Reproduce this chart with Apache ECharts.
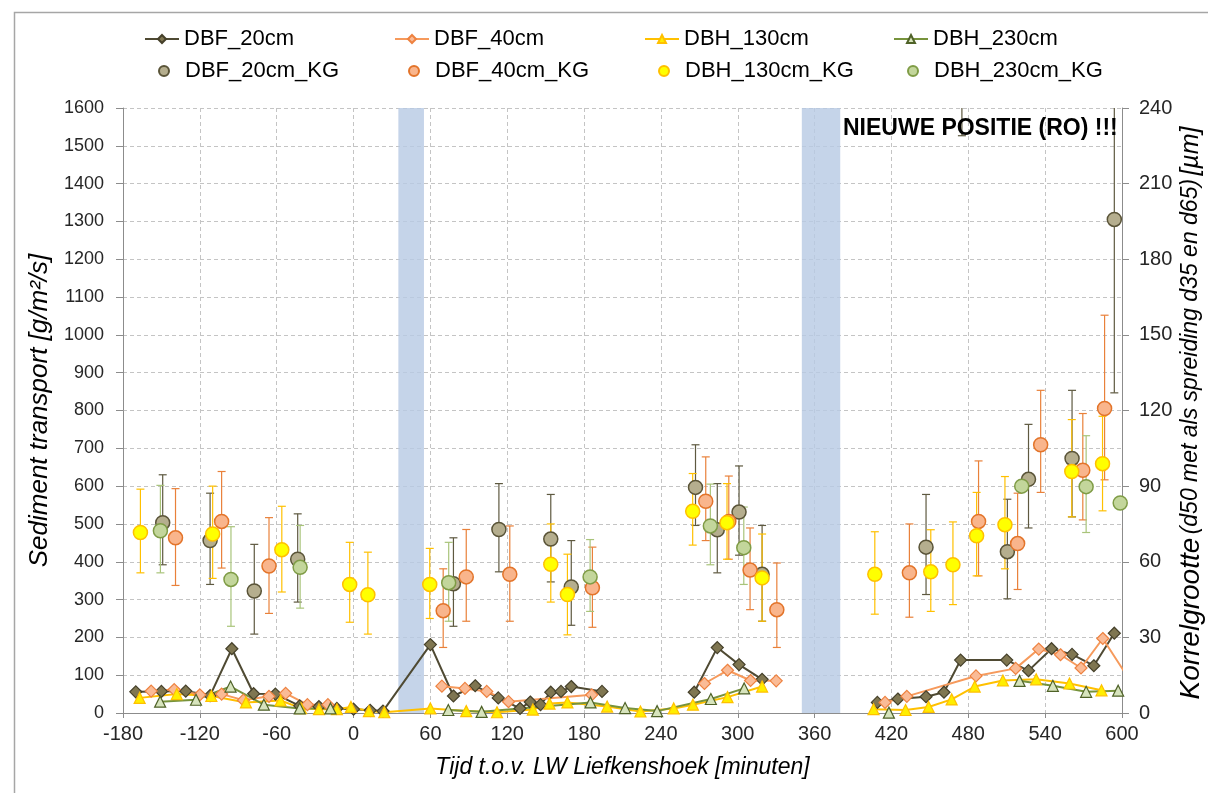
<!DOCTYPE html>
<html>
<head>
<meta charset="utf-8">
<script src="https://cdn.jsdelivr.net/npm/echarts@6/dist/echarts.min.js"></script>
<style>
  html, body { margin: 0; padding: 0; background: #ffffff; overflow: hidden; }
  #chart { width: 1208px; height: 793px; }
</style>
</head>
<body>
<div id="chart"></div>
<script>
// Sediment transport (left axis, g/m²/s) per sampling time, minutes relative to LW Liefkenshoek.
// null marks a break in the measured series.
const DBF_20cm = [[-170,56],[-150,57],[-131,58],[-112,46],[-95,170],[-78,51],[-61,50],[-42,19],[-27,17],[-13,12],[0,10],[13,7],[23,5],[60,181],[78,45],[95,72],[113,40],[130,12],[138,29],[146,22],[154,55],[162,57],[170,70],[194,57],null,[266,55],[284,173],[301,128],[319,89],null,[409,28],[425,37],[447,43],[461,55],[474,140],[510,140],[527,112],[545,170],[561,155],[578,125],[594,211]];
const DBF_40cm = [[-158,58],[-140,62],[-120,48],[-103,50],[-86,34],[-66,44],[-53,52],[-36,22],[-20,22],null,[69,71],[87,65],[104,57],[121,30],[186,48],null,[274,78],[292,113],[310,86],[330,85],null,[415,28],[432,44],[486,98],[517,118],[535,169],[552,154],[568,119],[585,197],[610,66]];
const DBH_130cm = [[-167,40],[-138,50],[-111,45],[-84,28],[-57,33],[-41,13],[-27,10],[-13,10],[-2,16],[12,5],[24,2],[60,12],[88,5],[112,2],[140,9],[153,25],[167,28],[198,17],[224,4],[250,12],[265,22],[292,42],[319,70],null,[406,10],[431,8],[449,16],[467,36],[485,70],[507,86],[533,89],[559,78],[584,60]];
const DBH_230cm = [[-151,30],[-123,35],[-96,70],[-70,22],[-42,12],[-18,12],null,[74,8],[100,3],[185,28],[212,13],[237,5],[279,37],[305,65],null,[418,1],null,[520,85],[546,72],[572,56],[597,59]];

// Grain size d50 (right axis, µm) with spread d35..d65: [time, d50, low, high]
const DBF_20cm_KG = [[-149,75.5,58.8,94.5],[-112,68.4,51,87.2],[-77.5,48.4,31.3,66.9],[-43.6,61,44,79],[78,51.3,34.4,69.5],[113.5,72.8,56,91],[154,69,52,86.7],[170,50,34.8,68.4],[267,89.5,74.4,106.4],[284,72.7,55.6,91],[301,79.7,62.6,98],[319,55,36.4,74.4],[447,65.8,47,86.7],[475,262,229,300],[510.5,64,45.3,84.8],[527,92.7,73.4,114.5],[561,101,77.8,128],[594,195.8,127,270]];
const DBF_40cm_KG = [[-139,69.5,50.6,89],[-103,76,57.5,95.8],[-66,58.3,39.5,77.5],[70,40.6,26,57.2],[88,54,36.4,72.8],[122,55,36.4,74.2],[186.5,49.7,34,65.8],[275,84,68.4,101.6],[293,76,61,94],[309.6,56.7,41,73.4],[330.5,41,26,59.5],[434,55.6,38,75],[488,76,54.4,100],[518.5,67.2,49,87.2],[536.5,106.4,87.5,128],[569.4,96.3,76.6,118.8],[586.4,120.8,92.5,157.8],[603,95,73,119]];
const DBH_130cm_KG = [[-166.4,71.6,55.6,88.8],[-110,71,53.4,90],[-56,64.8,48,82],[-3,51,36,67.7],[11.2,46.9,31.3,63.8],[59.5,51,37.5,65.3],[154,59,44,75],[167,47,31,63],[264.8,80,66.6,95],[291.6,75.5,61,91],[319,53.6,36.4,71],[407,55,39.2,71.9],[450.7,56,40.3,72.7],[468,58.8,43,75.8],[486.5,70.3,54.4,87.5],[508.6,74.7,57.2,93.8],[560.8,95.8,77.8,116.4],[584.8,98.9,80.2,117.7]];
const DBH_230cm_KG = [[-150.8,72.3,55.6,90.3],[-95.7,53,34.4,73.9],[-41.7,57.8,41.6,74.4],[74.3,51.7,36.4,67.7],[184.7,54,40.3,68.8],[278.6,74.2,58.8,90.8],[304.7,65.6,51,81.7],[521.7,90,90,90],[572,89.8,71.6,110],[598.6,83.3,83.3,83.3]];

// Periods shaded on the time axis (minutes)
const shadedPeriods = [[35,55],[350,380]];

// Axis ranges and titles
const xRange = { min: -180, max: 600, interval: 60 };
const yLeftRange = { min: 0, max: 1600, interval: 100 };
const yRightRange = { min: 0, max: 240, interval: 30 };
const xTitle = 'Tijd t.o.v. LW Liefkenshoek [minuten]';
const yLeftTitle = 'Sediment transport [g/m²/s]';
const yRightTitle = ['Korrelgrootte', '(d50 met als spreiding d35 en d65)', '[µm]'];
const note = 'NIEUWE POSITIE (RO) !!!';

const FONT = '"Liberation Sans", Arial, Helvetica, sans-serif';

const lineDefs = [
  { name: 'DBF_20cm', data: DBF_20cm, symbol: 'diamond', size: 12, line: '#4f4a33', fill: '#7f7651', border: '#45402a' },
  { name: 'DBF_40cm', data: DBF_40cm, symbol: 'diamond', size: 12, line: '#f69a5c', fill: '#fabb96', border: '#ee8240' },
  { name: 'DBH_130cm', data: DBH_130cm, symbol: 'triangle', size: 11, line: '#ffc000', fill: '#ffee00', border: '#ffc000' },
  { name: 'DBH_230cm', data: DBH_230cm, symbol: 'triangle', size: 11, line: '#77933c', fill: '#d7e4bd', border: '#4f6228' }
];
const kgDefs = [
  { name: 'DBF_20cm_KG', data: DBF_20cm_KG, fill: '#b5ae8e', border: '#5a5438', bar: '#5e5940' },
  { name: 'DBF_40cm_KG', data: DBF_40cm_KG, fill: '#f9b58c', border: '#e3742a', bar: '#e9813a' },
  { name: 'DBH_130cm_KG', data: DBH_130cm_KG, fill: '#ffff00', border: '#ffc000', bar: '#ffc000' },
  { name: 'DBH_230cm_KG', data: DBH_230cm_KG, fill: '#c3d69b', border: '#7f9c46', bar: '#a9c47a' }
];

// legend column positions (px from left)
const legendCols = [144, 394, 644, 893];

const toLineData = arr => arr.map(p => (p === null ? ['-', '-'] : p));

function errorBarRenderer(color) {
  return function (params, api) {
    const x = api.value(0);
    const lo = api.coord([x, api.value(1)]);
    const hi = api.coord([x, api.value(2)]);
    const w = 4;
    const style = { stroke: color, lineWidth: 1.2, fill: null };
    return {
      type: 'group',
      children: [
        { type: 'line', shape: { x1: lo[0], y1: lo[1], x2: hi[0], y2: hi[1] }, style },
        { type: 'line', shape: { x1: lo[0] - w, y1: lo[1], x2: lo[0] + w, y2: lo[1] }, style },
        { type: 'line', shape: { x1: hi[0] - w, y1: hi[1], x2: hi[0] + w, y2: hi[1] }, style }
      ]
    };
  };
}

const series = [];

// shaded periods
series.push({
  name: 'periods', type: 'line', data: [], z: 1, silent: true,
  markArea: {
    silent: true,
    itemStyle: { color: 'rgba(184,203,228,0.82)' },
    data: shadedPeriods.map(p => [{ xAxis: p[0] }, { xAxis: p[1] }])
  }
});

// grain size spread bars and d50 points
kgDefs.forEach(d => {
  series.push({
    name: d.name + '_spread', type: 'custom', yAxisIndex: 1, clip: true, z: 3,
    renderItem: errorBarRenderer(d.bar),
    encode: { x: 0, y: [1, 2] },
    data: d.data.map(r => [r[0], r[2], r[3]])
  });
});
kgDefs.forEach(d => {
  series.push({
    name: d.name, type: 'scatter', yAxisIndex: 1, clip: true, z: 4,
    symbol: 'circle', symbolSize: 14,
    itemStyle: { color: d.fill, borderColor: d.border, borderWidth: 1.5, opacity: 1 },
    data: d.data.map(r => [r[0], r[1]])
  });
});

// sediment transport lines
lineDefs.forEach(d => {
  series.push({
    name: d.name, type: 'line', yAxisIndex: 0, z: 5, clip: true,
    symbol: d.symbol, symbolSize: d.size, showSymbol: true, connectNulls: false,
    lineStyle: { color: d.line, width: 2 },
    itemStyle: { color: d.fill, borderColor: d.border, borderWidth: 1.2 },
    data: toLineData(d.data)
  });
});

// one legend block per entry so every column sits at a fixed position
const legends = [];
lineDefs.forEach((d, i) => {
  legends.push({
    data: [d.name], left: legendCols[i], top: 28, padding: 0,
    itemWidth: 34, itemHeight: 10, selectedMode: false,
    textStyle: { fontSize: 22, color: '#000000', fontFamily: FONT }
  });
});
kgDefs.forEach((d, i) => {
  legends.push({
    data: [d.name], left: legendCols[i] + 14, top: 60, padding: 0,
    itemWidth: 10, itemHeight: 10, icon: 'circle', selectedMode: false,
    textStyle: { fontSize: 22, color: '#000000', fontFamily: FONT, padding: [0, 0, 0, 11] }
  });
});

const axisLineStyle = { color: '#8c8c8c', width: 1 };
const gridLineStyle = { color: '#c4c4c4', type: [4, 3], width: 1 };
const plain = v => String(v);

const option = {
  animation: false,
  backgroundColor: '#ffffff',
  textStyle: { fontFamily: FONT },
  grid: { left: 123, right: 86, top: 108, bottom: 80, containLabel: false, outerBoundsMode: 'none' },
  legend: legends,
  xAxis: {
    type: 'value', min: xRange.min, max: xRange.max, interval: xRange.interval,
    name: xTitle, nameLocation: 'middle', nameGap: 43,
    nameTextStyle: { fontSize: 23, fontStyle: 'italic', color: '#000000', fontFamily: FONT },
    axisLine: { show: true, onZero: false, lineStyle: axisLineStyle },
    axisTick: { show: true, length: 5, lineStyle: axisLineStyle },
    axisLabel: { margin: 11, color: '#262626', fontSize: 20, fontFamily: FONT, formatter: plain },
    splitLine: { show: true, lineStyle: gridLineStyle }
  },
  yAxis: [
    {
      type: 'value', position: 'left', min: yLeftRange.min, max: yLeftRange.max, interval: yLeftRange.interval,
      name: yLeftTitle, nameLocation: 'middle', nameGap: 67, nameRotate: 90,
      nameTextStyle: { fontSize: 26, fontStyle: 'italic', color: '#000000', fontFamily: FONT },
      axisLine: { show: true, onZero: false, lineStyle: axisLineStyle },
      axisTick: { show: true, length: 7, lineStyle: axisLineStyle },
      axisLabel: { margin: 19, color: '#262626', fontSize: 18, fontFamily: FONT, formatter: plain },
      splitLine: { show: true, lineStyle: gridLineStyle }
    },
    {
      type: 'value', position: 'right', min: yRightRange.min, max: yRightRange.max, interval: yRightRange.interval,
      axisLine: { show: true, onZero: false, lineStyle: axisLineStyle },
      axisTick: { show: true, length: 7, lineStyle: axisLineStyle },
      axisLabel: { margin: 17, color: '#262626', fontSize: 20, fontFamily: FONT, formatter: plain },
      splitLine: { show: false }
    }
  ],
  graphic: [
    {
      type: 'rect', left: 12, top: 10, silent: true, z: -10,
      shape: { width: 1300, height: 900 },
      style: { fill: null, stroke: '#a6a6a6', lineWidth: 1.5 }
    },
    {
      type: 'text', left: 843, top: 117, z: 20,
      style: { text: note, fill: '#000000', font: 'bold 23px ' + FONT }
    },
    {
      // right axis title, reading bottom to top
      type: 'text', x: 1191, y: 413, rotation: Math.PI / 2, z: 20, silent: true,
      style: {
        text: '{a|' + yRightTitle[0] + '} {b|' + yRightTitle[1] + '} {c|' + yRightTitle[2] + '}',
        align: 'center', verticalAlign: 'middle', fill: '#000000',
        rich: {
          a: { fontSize: 28, fontStyle: 'italic', fill: '#000000', fontFamily: FONT },
          b: { fontSize: 23, fontStyle: 'italic', fill: '#000000', fontFamily: FONT },
          c: { fontSize: 25, fontStyle: 'italic', fill: '#000000', fontFamily: FONT }
        }
      }
    }
  ],
  series: series
};

const chart = echarts.init(document.getElementById('chart'), null, { renderer: 'canvas' });
chart.setOption(option);
</script>
</body>
</html>
